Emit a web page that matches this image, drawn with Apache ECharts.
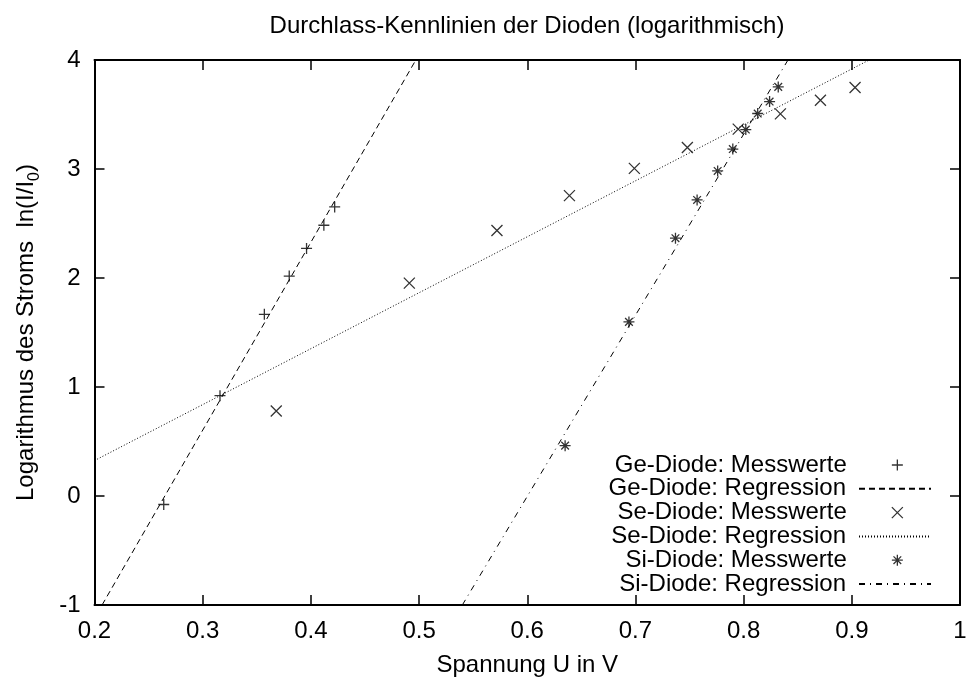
<!DOCTYPE html>
<html>
<head>
<meta charset="utf-8">
<title>Durchlass-Kennlinien der Dioden</title>
<script src="https://cdn.jsdelivr.net/npm/echarts@6/dist/echarts.min.js"></script>
<style>
  html, body { margin: 0; padding: 0; background: #fff; }
  #chart { width: 969px; height: 677px; }
</style>
</head>
<body>
<div id="chart"></div>
<script>
// Measured forward voltage U (V) and ln(I/I0) per diode
const geU  = [0.264, 0.316, 0.357, 0.380, 0.396, 0.412, 0.422];
const geLn = [-0.078, 0.920, 1.667, 2.018, 2.271, 2.484, 2.652];

const seU  = [0.368, 0.491, 0.572, 0.639, 0.699, 0.748, 0.795, 0.834, 0.871, 0.903];
const seLn = [0.780, 1.953, 2.436, 2.756, 3.006, 3.198, 3.366, 3.506, 3.631, 3.747];

const siU  = [0.635, 0.694, 0.737, 0.757, 0.776, 0.790, 0.802, 0.813, 0.824, 0.832];
const siLn = [0.462, 1.597, 2.365, 2.716, 2.982, 3.183, 3.362, 3.509, 3.619, 3.753];

// Regression lines, given by their end points inside the plot frame [U, ln(I/I0)]
const geFit = [[0.207, -1], [0.497, 4]];
const seFit = [[0.200, 0.325], [0.916, 4]];
const siFit = [[0.540, -1], [0.841, 4]];

// Axis ranges and tick steps
const xRange = [0.2, 1.0];
const xStep = 0.1;
const yRange = [-1, 4];
const yStep = 1;

const names = [
  'Ge-Diode: Messwerte', 'Ge-Diode: Regression',
  'Se-Diode: Messwerte', 'Se-Diode: Regression',
  'Si-Diode: Messwerte', 'Si-Diode: Regression'
];

const FONT = "'Liberation Sans', Arial, Helvetica, sans-serif";
const FS = 24;

const zip = (a, b) => a.map((v, i) => [v, b[i]]);

// Point glyphs drawn as stroked paths
const SYM_PLUS  = 'path://M5,0L5,10M0,5L10,5';
const SYM_CROSS = 'path://M0,0L10,10M10,0L0,10';
const SYM_STAR  = 'path://M5,0L5,10M0,5L10,5M1.5,1.5L8.5,8.5M8.5,1.5L1.5,8.5';

const markStyle = { color: 'rgba(0,0,0,0)', borderColor: '#000', borderWidth: 1.3 };

function scatter(name, u, ln, sym) {
  return {
    name, type: 'scatter', data: zip(u, ln),
    symbol: sym, symbolSize: 11, symbolKeepAspect: true,
    itemStyle: markStyle, emphasis: { disabled: true }, z: 3
  };
}
function fitLine(name, pts, dash) {
  return {
    name, type: 'line', data: pts, symbol: 'none', showSymbol: false,
    lineStyle: { color: '#000', width: 1, type: dash },
    itemStyle: { color: '#000' },
    emphasis: { disabled: true }, clip: true, z: 2
  };
}

const series = [
  scatter(names[0], geU, geLn, SYM_PLUS),
  fitLine(names[1], geFit, [6, 4]),
  scatter(names[2], seU, seLn, SYM_CROSS),
  fitLine(names[3], seFit, [1, 2]),
  scatter(names[4], siU, siLn, SYM_STAR),
  fitLine(names[5], siFit, [6, 5, 1, 5])
];

// One legend per entry, text right-aligned, key sample to the right of the text
const legendRowTop = 453;
const legendRowStep = 23.8;
const legends = names.map((n, i) => {
  const isMark = i % 2 === 0;
  return {
    data: [n],
    orient: 'vertical',
    right: isMark ? 65.5 : 37,
    top: legendRowTop + i * legendRowStep,
    padding: 0,
    align: 'right',
    itemWidth: isMark ? 11 : 72,
    itemHeight: 11,
    selectedMode: false,
    itemStyle: isMark ? markStyle : { color: 'rgba(0,0,0,0)', borderWidth: 0 },
    textStyle: { fontFamily: FONT, fontSize: FS, color: '#000', padding: [0, isMark ? 40 : 8, 0, 0] }
  };
});

const axisLine = { show: true, onZero: false, lineStyle: { color: '#000', width: 2 } };
const tick = { show: true, inside: true, length: 10, lineStyle: { color: '#000', width: 1.5 } };
const label = { fontFamily: FONT, fontSize: FS, color: '#000' };

const option = {
  animation: false,
  backgroundColor: '#fff',
  title: {
    text: 'Durchlass-Kennlinien der Dioden (logarithmisch)',
    left: 527, top: 14, textAlign: 'center', padding: 0,
    textStyle: { fontFamily: FONT, fontSize: FS, fontWeight: 'normal', color: '#000' }
  },
  legend: legends,
  grid: {
    left: 94.5, right: 9, top: 60, bottom: 72,
    containLabel: false, outerBoundsMode: 'none'
  },
  xAxis: [
    {
      type: 'value', min: xRange[0], max: xRange[1], interval: xStep, position: 'bottom',
      name: 'Spannung U in V', nameLocation: 'middle', nameGap: 48,
      nameTextStyle: label,
      axisLine, axisTick: tick, splitLine: { show: false },
      axisLabel: Object.assign({ margin: 14, formatter: v => String(+v.toFixed(1)) }, label)
    },
    {
      type: 'value', min: xRange[0], max: xRange[1], interval: xStep, position: 'top',
      axisLine, axisTick: tick, splitLine: { show: false }, axisLabel: { show: false }
    }
  ],
  yAxis: [
    {
      type: 'value', min: yRange[0], max: yRange[1], interval: yStep, position: 'left',
      name: '{n|Logarithmus des Stroms  ln(I/I}{s|0}{n|)}',
      nameLocation: 'middle', nameGap: 52, nameRotate: 90,
      nameTextStyle: {
        fontFamily: FONT, color: '#000',
        rich: {
          n: { fontFamily: FONT, fontSize: FS, color: '#000' },
          s: { fontFamily: FONT, fontSize: 16, color: '#000', padding: [16, 0, 0, 0] }
        }
      },
      axisLine, axisTick: tick, splitLine: { show: false },
      axisLabel: Object.assign({ margin: 14 }, label)
    },
    {
      type: 'value', min: yRange[0], max: yRange[1], interval: yStep, position: 'right',
      axisLine, axisTick: tick, splitLine: { show: false }, axisLabel: { show: false }
    }
  ],
  series
};

const chart = echarts.init(document.getElementById('chart'), null, { renderer: 'canvas' });
chart.setOption(option);
</script>
</body>
</html>
